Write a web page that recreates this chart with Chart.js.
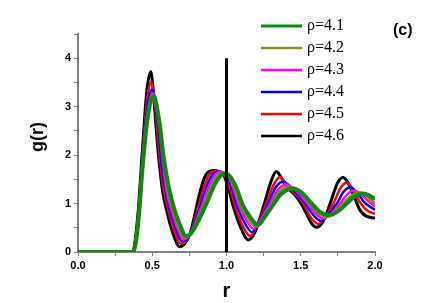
<!DOCTYPE html>
<html>
<head>
<meta charset="utf-8">
<script src="https://cdn.jsdelivr.net/npm/chart.js@4.4.1/dist/chart.umd.min.js"></script>
<style>
  body{ margin:0; background:#fff; }
  #wrap{ width:436px; height:303px; position:relative; }
</style>
</head>
<body>
<div id="wrap"><canvas id="gr"></canvas></div>
<script>

// g(r) curves, one pair of arrays per density

const rGreen = [0,0.36,0.372,0.387,0.41,0.435,0.46,0.485,0.51,0.53,0.55,0.57,0.59,0.617,0.65,0.688,0.725,0.754,0.8,0.865,0.922,0.95,0.985,1.02,1.07,1.105,1.158,1.21,1.27,1.32,1.37,1.447,1.5,1.575,1.63,1.69,1.75,1.81,1.86,1.92,1.96,2.0];
const gGreen = [0,0,0.01,0.15,0.75,1.75,2.55,3.05,3.22,3.02,2.6,2.1,1.7,1.25,0.87,0.55,0.33,0.36,0.58,1.0,1.4,1.54,1.62,1.57,1.3,1.0,0.73,0.56,0.78,1.0,1.2,1.31,1.24,1.0,0.83,0.76,0.84,1.0,1.14,1.21,1.17,1.09];

const rOlive = [0,0.36,0.371,0.387,0.41,0.434,0.458,0.482,0.506,0.526,0.556,0.576,0.607,0.64,0.677,0.715,0.754,0.795,0.853,0.905,0.93,0.97,1.02,1.059,1.092,1.144,1.196,1.222,1.307,1.36,1.425,1.46,1.51,1.56,1.615,1.668,1.72,1.787,1.835,1.89,1.94,2.0];
const gOlive = [0,0,0.01,0.16,0.77,1.76,2.55,3.05,3.24,3.02,2.6,2.0,1.25,0.87,0.53,0.30,0.36,0.6,1.0,1.4,1.54,1.63,1.58,1.3,1.0,0.71,0.53,0.57,1.0,1.25,1.34,1.31,1.2,1.0,0.82,0.73,0.8,1.0,1.14,1.23,1.17,1.0];

const rMagenta = [0,0.36,0.371,0.386,0.41,0.433,0.455,0.478,0.502,0.522,0.548,0.568,0.598,0.63,0.668,0.707,0.754,0.79,0.841,0.888,0.915,0.955,1.01,1.048,1.079,1.131,1.183,1.213,1.294,1.35,1.405,1.44,1.49,1.546,1.6,1.652,1.7,1.765,1.81,1.86,1.91,1.96,2.0];
const gMagenta = [0,0,0.01,0.18,0.8,1.78,2.55,3.05,3.28,3.02,2.6,1.95,1.25,0.86,0.51,0.26,0.36,0.6,1.0,1.4,1.56,1.65,1.58,1.3,1.0,0.67,0.48,0.58,1.0,1.3,1.39,1.34,1.2,1.0,0.8,0.69,0.78,1.0,1.18,1.27,1.18,1.04,0.94];

const rBlue = [0,0.36,0.37,0.386,0.409,0.432,0.45,0.472,0.498,0.518,0.54,0.56,0.589,0.62,0.66,0.70,0.754,0.785,0.829,0.872,0.9,0.94,1.0,1.037,1.066,1.119,1.172,1.213,1.281,1.335,1.385,1.42,1.475,1.531,1.585,1.638,1.68,1.743,1.79,1.835,1.88,1.93,2.0];
const gBlue = [0,0,0.01,0.19,0.82,1.8,2.5,3.1,3.36,3.05,2.6,1.9,1.25,0.86,0.47,0.22,0.37,0.6,1.0,1.4,1.57,1.66,1.58,1.3,1.0,0.62,0.41,0.58,1.0,1.35,1.45,1.38,1.2,1.0,0.76,0.64,0.75,1.0,1.25,1.33,1.22,1.02,0.87];

const rRed = [0,0.36,0.37,0.385,0.408,0.431,0.448,0.468,0.495,0.51,0.532,0.552,0.579,0.61,0.651,0.692,0.725,0.754,0.78,0.817,0.855,0.885,0.925,0.955,0.99,1.026,1.053,1.106,1.16,1.213,1.268,1.32,1.358,1.39,1.43,1.475,1.517,1.57,1.622,1.66,1.72,1.77,1.81,1.85,1.9,1.95,2.0];
const gRed = [0,0,0.01,0.2,0.85,1.85,2.55,3.2,3.52,3.25,2.6,1.9,1.25,0.85,0.42,0.17,0.22,0.37,0.6,1.0,1.4,1.6,1.67,1.65,1.56,1.3,1.0,0.56,0.33,0.58,1.0,1.4,1.55,1.45,1.3,1.16,1.0,0.7,0.58,0.7,1.0,1.33,1.43,1.3,1.02,0.85,0.79];

const rBlack = [0,0.36,0.37,0.384,0.406,0.429,0.445,0.462,0.49,0.505,0.525,0.545,0.57,0.6,0.642,0.685,0.72,0.754,0.79,0.82,0.85,0.875,0.91,0.95,0.98,1.015,1.04,1.094,1.147,1.18,1.213,1.255,1.305,1.336,1.36,1.39,1.42,1.46,1.502,1.54,1.575,1.607,1.64,1.675,1.698,1.75,1.787,1.82,1.865,1.9,1.94,2.0];
const gBlack = [0,0,0.01,0.22,0.87,1.9,2.6,3.29,3.72,3.4,2.6,1.9,1.25,0.82,0.36,0.11,0.18,0.37,0.82,1.22,1.52,1.65,1.68,1.66,1.6,1.3,1.0,0.52,0.25,0.34,0.58,1.0,1.5,1.66,1.58,1.42,1.3,1.18,1.0,0.78,0.58,0.51,0.58,0.8,1.0,1.44,1.54,1.42,1.1,0.86,0.74,0.70];

// vertical marker at r = 1
const markerR = [1.0, 1.0];
const markerG = [0, 4];

const seriesLabels = ["ρ=4.1","ρ=4.2","ρ=4.3","ρ=4.4","ρ=4.5","ρ=4.6"];
const seriesColors = ["#0f8a0f","#8a8a1e","#ff00ff","#0000ff","#ff0000","#000000"];
const seriesWidths = [4,3,2.5,2.5,2.5,3];

const xTicks = [0.0,0.5,1.0,1.5,2.0];
const yTicks = [0,1,2,3,4];

function toPoints(rs, gs){
  return rs.map((r,i)=>({ x:r, y:gs[i] }));
}

const curves = [
  toPoints(rGreen,gGreen),
  toPoints(rOlive,gOlive),
  toPoints(rMagenta,gMagenta),
  toPoints(rBlue,gBlue),
  toPoints(rRed,gRed),
  toPoints(rBlack,gBlack)
];

const datasets = curves.map((pts,i)=>({
  label:seriesLabels[i],
  data:pts,
  borderColor:seriesColors[i],
  borderWidth:seriesWidths[i],
  pointRadius:0,
  fill:false,
  cubicInterpolationMode:'monotone',
  order:i+1
}));

datasets.push({
  label:'r=1',
  data:toPoints(markerR,markerG),
  borderColor:'#000',
  borderWidth:3,
  pointRadius:0,
  order:0
});

const AXIS = '#808080';
const SANS = 'Arial, "Liberation Sans", sans-serif';

// legend, panel tag and y title drawn on the canvas
const decor = {
  id:'decor',
  afterDraw(chart){
    const ctx = chart.ctx;
    ctx.save();
    seriesLabels.forEach((lab,i)=>{
      const y = 26 + i*22;
      ctx.strokeStyle = seriesColors[i];
      ctx.lineWidth = i === 0 ? 3 : 2.5;
      ctx.beginPath();
      ctx.moveTo(261,y);
      ctx.lineTo(302,y);
      ctx.stroke();
      ctx.fillStyle = '#000';
      ctx.font = '16px "Liberation Serif", "Times New Roman", serif';
      ctx.textBaseline = 'middle';
      ctx.textAlign = 'left';
      ctx.fillText(lab,307,y);
    });
    ctx.font = 'bold 16px ' + SANS;
    ctx.fillText('(c)',393,31);

    ctx.translate(38,137);
    ctx.rotate(-Math.PI/2);
    ctx.textAlign = 'center';
    ctx.font = 'bold 18px ' + SANS;
    ctx.fillText('g(r)',0,0);
    ctx.restore();
  }
};

new Chart(document.getElementById('gr'),{
  type:'line',
  data:{ datasets:datasets },
  options:{
    responsive:true,
    maintainAspectRatio:false,
    animation:false,
    layout:{ padding:{ top:34, right:61, left:0, bottom:0 } },
    plugins:{ legend:{ display:false }, tooltip:{ enabled:false } },
    scales:{
      x:{
        type:'linear',
        min:0,
        max:2,
        afterFit(s){ s.height = 51; },
        ticks:{
          stepSize:0.25,
          color:'#000',
          padding:3,
          maxRotation:0,
          font:{ family:SANS, size:11, weight:'bold' },
          callback:v => xTicks.includes(v) ? v.toFixed(1) : ''
        },
        grid:{ drawOnChartArea:false, drawTicks:true, tickLength:4, color:AXIS, tickColor:AXIS },
        border:{ display:true, color:AXIS, width:2 },
        title:{
          display:true,
          text:'r',
          color:'#000',
          font:{ family:SANS, size:20, weight:'bold' },
          padding:{ top:0, bottom:0 }
        }
      },
      y:{
        min:0,
        max:4.5,
        afterFit(s){ s.width = 78; },
        ticks:{
          stepSize:0.5,
          color:'#000',
          padding:3,
          font:{ family:SANS, size:11, weight:'bold' },
          callback:v => yTicks.includes(v) ? String(v) : ''
        },
        grid:{ drawOnChartArea:false, drawTicks:true, tickLength:4, color:AXIS, tickColor:AXIS },
        border:{ display:true, color:AXIS, width:2 }
      }
    }
  },
  plugins:[decor]
});

</script>
</body>
</html>
